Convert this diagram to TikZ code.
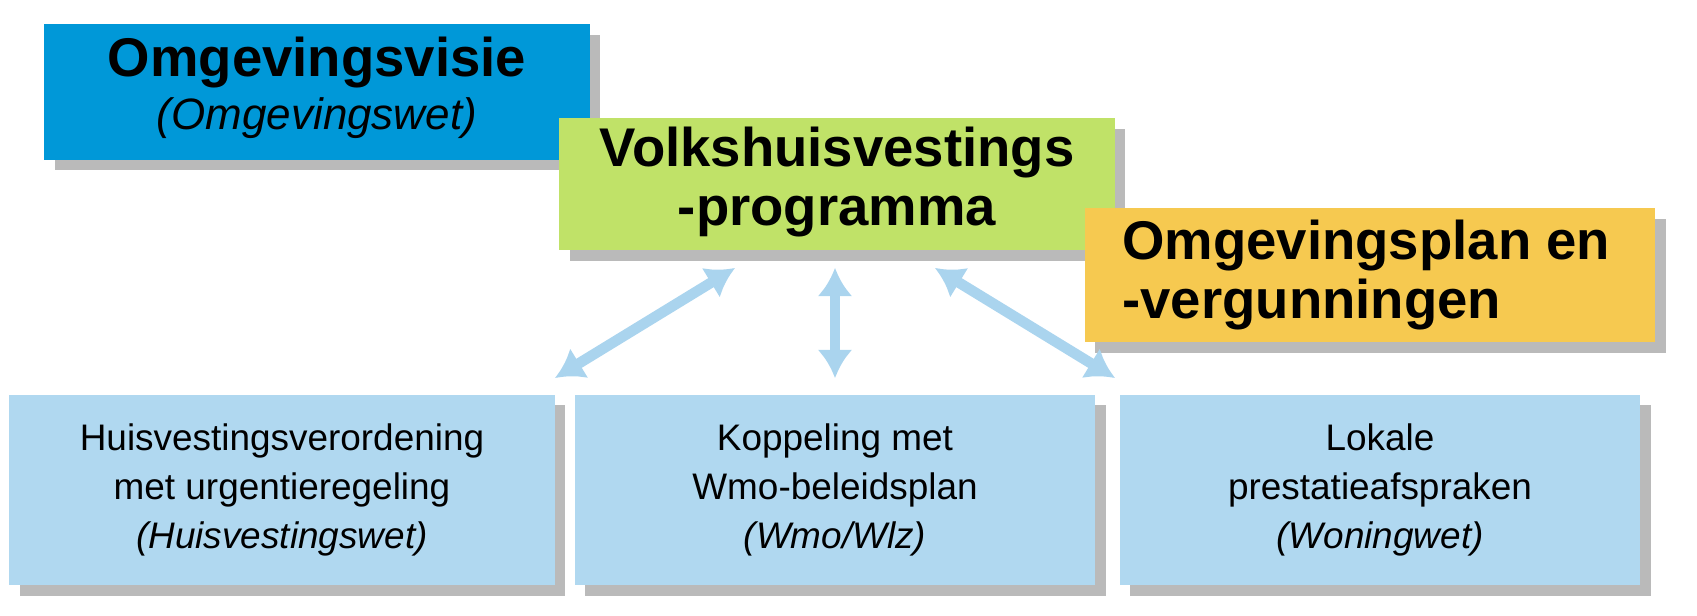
\documentclass[tikz,border=0pt]{standalone}
\usepackage{fontspec}
\setmainfont{Liberation Sans}
\usetikzlibrary{shadows,arrows.meta}
\definecolor{visieblue}{RGB}{0,152,216}
\definecolor{progreen}{RGB}{192,226,104}
\definecolor{planyellow}{RGB}{246,201,80}
\definecolor{lowblue}{RGB}{176,216,240}
\definecolor{arrowblue}{RGB}{170,212,238}
\begin{document}
\begin{tikzpicture}[
        x=0.01cm, y=-0.01cm,
        box_style/.style={rectangle, inner sep=0pt, drop shadow={shadow xshift=3pt, shadow yshift=-3pt, fill=black!45, opacity=0.6}},
        title_style/.style={font=\fontsize{15.5pt}{17pt}\selectfont\bfseries, align=center},
        low_style/.style={box_style, fill=lowblue, minimum width=5.2cm, minimum height=1.9cm, font=\fontsize{10.5pt}{14pt}\selectfont, align=center},
        link_style/.style={arrowblue, line width=3pt, <->, >={Latex[length=8pt,width=10pt]}}
    ]
        \useasboundingbox (0,0) rectangle (1697,616);

        % Top boxes
        \node[box_style, fill=visieblue, minimum width=5.45cm, minimum height=1.35cm] (visie) at (317,92) {};
        \node[title_style] at (317,88) {Omgevingsvisie\\[-2pt]\normalfont\fontsize{12.5pt}{14pt}\selectfont\itshape(Omgevingswet)};
        \node[box_style, fill=progreen, minimum width=5.55cm, minimum height=1.32cm] (prog) at (837,184) {};
        \node[title_style] at (837,182) {Volkshuisvestings\\-programma};
        \node[box_style, fill=planyellow, minimum width=5.7cm, minimum height=1.34cm] (plan) at (1370,275) {};
        \node[title_style, align=left, anchor=west] at (1110,275) {Omgevingsplan en\\-vergunningen};

        % Bottom boxes
        \node[low_style, minimum width=5.45cm] (huis) at (282,490) {Huisvestingsverordening\\met urgentieregeling\\\itshape(Huisvestingswet)};
        \node[low_style] (wmo) at (835,490) {Koppeling met\\Wmo-beleidsplan\\\itshape(Wmo/Wlz)};
        \node[low_style] (lokaal) at (1380,490) {Lokale\\prestatieafspraken\\\itshape(Woningwet)};

        % Connectors
        \coordinate (p1) at (735,268);
        \coordinate (p2) at (835,268);
        \coordinate (p3) at (935,268);
        \coordinate (q1) at (555,378);
        \coordinate (q2) at (835,378);
        \coordinate (q3) at (1115,378);
        \draw[link_style] (p1) -- (q1);
        \draw[link_style] (p2) -- (q2);
        \draw[link_style] (p3) -- (q3);
    \end{tikzpicture}
\end{document}
